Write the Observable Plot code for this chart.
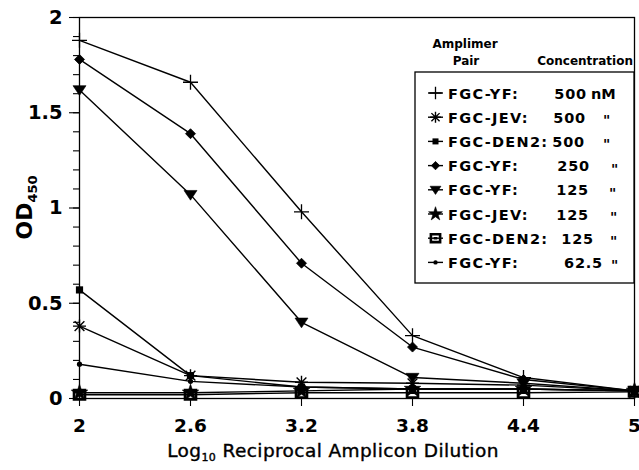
<!DOCTYPE html>
<html>
<head>
<meta charset="utf-8">
<script src="https://cdn.jsdelivr.net/npm/d3@7"></script>
<script src="https://cdn.jsdelivr.net/npm/@observablehq/plot@0.6"></script>
<style>
  html, body { margin: 0; padding: 0; background: #fff; }
  #chart { width: 639px; height: 470px; }
</style>
</head>
<body>
<div id="chart"></div>
<script>
// ---- data ----
const dilutions = [2, 2.6, 3.2, 3.8, 4.4, 5];
const xTickLabels = ["2", "2.6", "3.2", "3.8", "4.4", "5"];
const yMajorTicks = [0, 0.5, 1, 1.5, 2];
const yTickLabels = ["0", "0.5", "1", "1.5", "2"];
const yMinorTicks = [0, 0.1, 0.2, 0.3, 0.4, 0.5, 0.6, 0.7, 0.8, 0.9, 1, 1.1, 1.2, 1.3, 1.4, 1.5, 1.6, 1.7, 1.8, 1.9, 2];

const amplimerPairs = ["FGC-YF:", "FGC-JEV:", "FGC-DEN2:", "FGC-YF:", "FGC-YF:", "FGC-JEV:", "FGC-DEN2:", "FGC-YF:"];
const concentrations = ["500", "500", "500", "250", "125", "125", "125", "62.5"];
const concUnits = ["nM", "\"", "\"", "\"", "\"", "\"", "\"", "\""];

const yf500   = [1.88, 1.66, 0.98, 0.33, 0.11, 0.04];
const jev500  = [0.38, 0.12, 0.085, 0.08, 0.07, 0.04];
const den500  = [0.57, 0.12, 0.06, 0.05, 0.05, 0.04];
const yf250   = [1.78, 1.39, 0.71, 0.27, 0.10, 0.04];
const yf125   = [1.62, 1.07, 0.40, 0.11, 0.08, 0.04];
const jev125  = [0.03, 0.03, 0.04, 0.05, 0.05, 0.04];
const den125  = [0.02, 0.02, 0.03, 0.03, 0.03, 0.035];
const yf62    = [0.18, 0.09, 0.06, 0.05, 0.05, 0.04];
const seriesValues = [yf500, jev500, den500, yf250, yf125, jev125, den125, yf62];

// ---- symbols ----
const rOf = s => Math.sqrt(s / Math.PI);
const symPlus = {draw(c, s) { const r = rOf(s); c.moveTo(-r, 0); c.lineTo(r, 0); c.moveTo(0, -r); c.lineTo(0, r); }};
const symAster = {draw(c, s) { const r = rOf(s), d = r * 0.75;
  c.moveTo(-r, 0); c.lineTo(r, 0); c.moveTo(0, -r); c.lineTo(0, r);
  c.moveTo(-d, -d); c.lineTo(d, d); c.moveTo(-d, d); c.lineTo(d, -d); }};
const symSquare = {draw(c, s) { const r = rOf(s); c.rect(-r, -r, 2 * r, 2 * r); }};
const symDiamond = {draw(c, s) { const r = rOf(s); c.moveTo(0, -r); c.lineTo(r, 0); c.lineTo(0, r); c.lineTo(-r, 0); c.closePath(); }};
const symTriDown = {draw(c, s) { const r = rOf(s); c.moveTo(-r, -0.65 * r); c.lineTo(r, -0.65 * r); c.lineTo(0, 0.85 * r); c.closePath(); }};
const symStar = d3.symbolStar;
const symOpenSq = {draw(c, s) { const r = rOf(s); c.rect(-r, -r * 0.85, 2 * r, 1.7 * r); c.moveTo(-r * 0.4, 0); c.lineTo(r * 0.4, 0); }};
const symDot = d3.symbolCircle;

const styles = [
  {symbol: symPlus, r: 7.5, fill: "none", stroke: "black", sw: 1.3},
  {symbol: symAster, r: 6.5, fill: "none", stroke: "black", sw: 1.4},
  {symbol: symSquare, r: 3.6, fill: "black", stroke: "none", sw: 0},
  {symbol: symDiamond, r: 5, fill: "black", stroke: "black", sw: 0.8},
  {symbol: symTriDown, r: 6.5, fill: "black", stroke: "black", sw: 0.6},
  {symbol: symStar, r: 5.2, fill: "black", stroke: "black", sw: 0.6},
  {symbol: symOpenSq, r: 5.5, fill: "none", stroke: "black", sw: 2.6},
  {symbol: symDot, r: 2.6, fill: "black", stroke: "none", sw: 0}
];

const W = 639, H = 470;
const mL = 79, mR = 5, mT = 17, mB = 72;

const seriesData = seriesValues.map((vals, k) => dilutions.map((x, i) => ({x, y: vals[i], k})));

const marks = [];
marks.push(Plot.frame({stroke: "black", strokeWidth: 1.3}));
marks.push(Plot.axisY({ticks: yMinorTicks, tickSize: 6, tickFormat: () => "", label: null, strokeWidth: 1.1}));
marks.push(Plot.axisY({ticks: yMajorTicks, tickSize: 10, tickPadding: 7, tickFormat: d => yTickLabels[yMajorTicks.indexOf(d)], label: null, fontSize: 19.5, strokeWidth: 1.1}));
marks.push(Plot.axisX({ticks: dilutions, tickSize: 8, tickPadding: 12, tickFormat: d => xTickLabels[dilutions.indexOf(d)], label: null, fontSize: 18.5, strokeWidth: 1.1}));

seriesData.forEach((data) => {
  marks.push(Plot.line(data, {x: "x", y: "y", stroke: "black", strokeWidth: 1.4}));
});
seriesData.forEach((data, k) => {
  const st = styles[k];
  marks.push(Plot.dot(data, {x: "x", y: "y", symbol: () => st.symbol, r: st.r, fill: st.fill, stroke: st.stroke, strokeWidth: st.sw}));
});

// titles and legend
marks.push(() => {
  const g = d3.create("svg:g").attr("font-family", "DejaVu Sans").attr("fill", "black").attr("text-anchor", "start");
  // y title
  const yt = g.append("text").attr("transform", `translate(32,${(mT + H - mB) / 2}) rotate(-90)`)
    .attr("text-anchor", "middle").attr("font-weight", "bold").attr("font-size", 22);
  yt.append("tspan").text("OD");
  yt.append("tspan").attr("font-size", 13).attr("dy", 5).text("450");
  // x title
  const xt = g.append("text").attr("x", 333).attr("y", 457).attr("text-anchor", "middle")
    .attr("font-size", 18.5).attr("letter-spacing", 0.4).attr("font-weight", "normal")
    .attr("stroke", "black").attr("stroke-width", 0.4);
  xt.append("tspan").text("Log");
  xt.append("tspan").attr("font-size", 11).attr("dy", 4).text("10");
  xt.append("tspan").attr("dy", -4).text(" Reciprocal Amplicon Dilution");

  // legend headings
  const hd = g.append("g").attr("font-weight", "bold").attr("font-size", 12);
  hd.append("text").attr("x", 465).attr("y", 48).attr("text-anchor", "middle").text("Amplimer");
  hd.append("text").attr("x", 466).attr("y", 65).attr("text-anchor", "middle").text("Pair");
  hd.append("text").attr("x", 633).attr("y", 65).attr("text-anchor", "end").text("Concentration");

  // legend box
  const bx = 415, by = 72, bw = (W - mR) - bx, bh = 211;
  g.append("rect").attr("x", bx).attr("y", by).attr("width", bw).attr("height", bh)
    .attr("fill", "white").attr("stroke", "black").attr("stroke-width", 1.3);

  const concEnd = [587, 586, 585, 590, 589, 589, 594, 603];
  const unitX = [591, 603, 603, 611, 609, 610, 610, 611];
  amplimerPairs.forEach((name, i) => {
    const cy = 93 + i * 24.2;
    const st = styles[i];
    g.append("line").attr("x1", 428).attr("x2", 443).attr("y1", cy).attr("y2", cy)
      .attr("stroke", "black").attr("stroke-width", 1.4);
    g.append("path").attr("transform", `translate(435.5,${cy})`)
      .attr("d", d3.symbol(st.symbol, st.r * st.r * Math.PI * 0.7)())
      .attr("fill", st.fill).attr("stroke", st.stroke).attr("stroke-width", st.sw);
    g.append("text").attr("x", 448).attr("y", cy + 5.5).attr("text-anchor", "start")
      .attr("font-weight", "bold").attr("font-size", 14.5).attr("letter-spacing", 1.3)
      .text(name);
    g.append("text").attr("x", concEnd[i]).attr("y", cy + 5.5).attr("text-anchor", "end")
      .attr("font-weight", "bold").attr("font-size", 14.5).attr("letter-spacing", 0.8).text(concentrations[i]);
    g.append("text").attr("x", unitX[i]).attr("y", cy + (concUnits[i] === "nM" ? 5.5 : 8)).attr("text-anchor", "start")
      .attr("font-weight", "bold").attr("font-size", concUnits[i] === "nM" ? 14.5 : 14).text(concUnits[i]);
  });
  return g.node();
});

const chart = Plot.plot({
  width: W, height: H,
  marginLeft: mL, marginRight: mR, marginTop: mT, marginBottom: mB,
  style: {fontFamily: "DejaVu Sans", fontWeight: "bold", background: "white", color: "black", overflow: "visible"},
  x: {domain: [2, 5]},
  y: {domain: [0, 2]},
  marks
});
document.getElementById("chart").appendChild(chart);
</script>
</body>
</html>
